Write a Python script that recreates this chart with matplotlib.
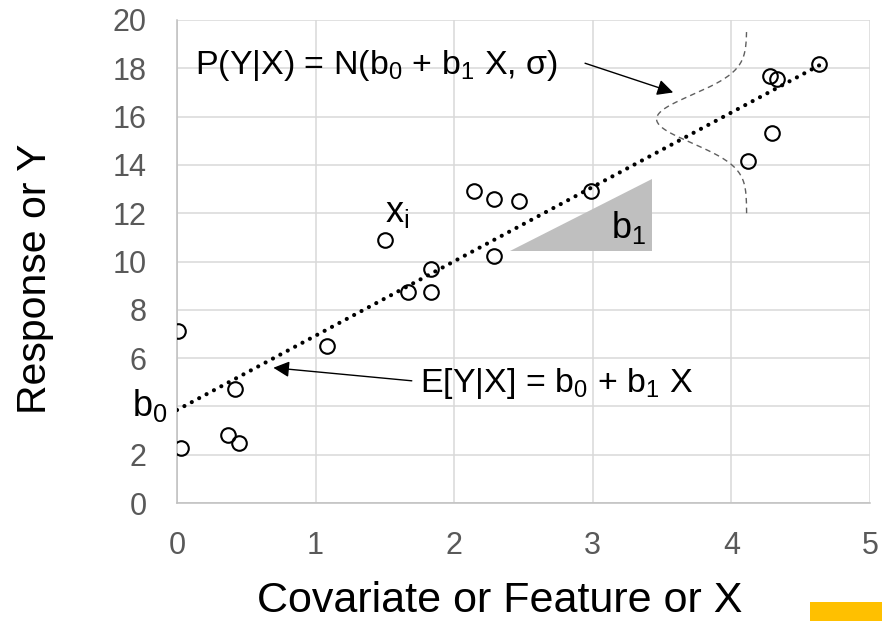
# -*- coding: utf-8 -*-
"""
Regresión lineal simple: puntos, recta E[Y|X] y la densidad P(Y|X)
"""
import numpy as np
import matplotlib.pyplot as plt
from matplotlib.patches import Rectangle

plt.rcParams['font.family'] = ['Liberation Sans', 'DejaVu Sans']
plt.rcParams['mathtext.fontset'] = 'custom'
plt.rcParams['mathtext.rm'] = 'Liberation Sans'
plt.rcParams['mathtext.default'] = 'regular'

# datos (x, y)
x_pts = [0.01, 0.03, 0.37, 0.45, 0.42, 1.08, 1.50, 1.67, 1.83, 1.83,
         2.14, 2.29, 2.47, 2.29, 2.99, 4.12, 4.29, 4.28, 4.33, 4.63]
y_pts = [7.12, 2.29, 2.82, 2.50, 4.71, 6.50, 10.89, 8.74, 8.74, 9.69,
         12.93, 12.58, 12.51, 10.24, 12.93, 14.15, 15.31, 17.68, 17.56, 18.17]

# recta ajustada
b0 = 3.85
b1 = 3.08
x_fit = [0.0, 4.68]

# campana de P(Y|X) dibujada de lado
gauss_base = 4.11
gauss_mu = 15.9
gauss_sigma = 1.0
gauss_amp = 0.65
gauss_rango = [12.0, 19.5]

# triángulo de la pendiente
tri_x = [2.40, 3.425, 3.425]
tri_y = [10.45, 10.45, 13.42]

x_ticks = [0, 1, 2, 3, 4, 5]
y_ticks = [0, 2, 4, 6, 8, 10, 12, 14, 16, 18, 20]
# el 4 queda tapado por la etiqueta b0
y_labels = ['0', '2', '', '6', '8', '10', '12', '14', '16', '18', '20']

fig = plt.figure(figsize=(8.82, 6.21), dpi=100)
ax = fig.add_axes([0.2007, 0.190, 0.7857, 0.7778])

ax.set_xlim(0, 5)
ax.set_ylim(0, 20)
ax.set_xticks(x_ticks)
ax.set_yticks(y_ticks)
ax.set_yticklabels(y_labels)
ax.grid(True, color='#D9D9D9', lw=1.1)
ax.set_axisbelow(True)
ax.tick_params(length=0, labelsize=22, labelcolor='#595959')
ax.tick_params(axis='y', pad=22)
ax.tick_params(axis='x', pad=20)
for s in ['top', 'right']:
    ax.spines[s].set_visible(False)
for s in ['left', 'bottom']:
    ax.spines[s].set_color('#BFBFBF')
    ax.spines[s].set_linewidth(1.1)

ax.fill(tri_x, tri_y, color='#BFBFBF', lw=0, zorder=2)

yy = np.linspace(gauss_rango[0], gauss_rango[1], 200)
xx = gauss_base - gauss_amp * np.exp(-(yy - gauss_mu) ** 2 / (2 * gauss_sigma ** 2))
ax.plot(xx, yy, color='#5F5F5F', lw=1.0, ls=(0, (4, 3)), zorder=3)

xf = np.array(x_fit)
ax.plot(xf, b0 + b1 * xf, color='black', lw=3.0, ls=(0, (0.01, 2.0)),
        dash_capstyle='round', zorder=4)

ax.plot(x_pts, y_pts, 'o', mfc='none', mec='black', ms=10.5, mew=1.5, zorder=5)

ax.text(0.13, 17.75, 'P(Y|X) = N(b$_0$ + b$_1$ X, σ)', fontsize=24.5, va='baseline')
ax.annotate('', xy=(3.58, 17.0), xytext=(2.944, 18.21),
            arrowprops=dict(arrowstyle='-|>', mutation_scale=24, lw=1,
                            color='black', shrinkA=0, shrinkB=0))

ax.text(1.753, 4.61, 'E[Y|X] = b$_0$ + b$_1$ X', fontsize=24.5, va='baseline')
ax.annotate('', xy=(0.695, 5.60), xytext=(1.694, 5.06),
            arrowprops=dict(arrowstyle='-|>', mutation_scale=24, lw=1,
                            color='black', shrinkA=0, shrinkB=0))

ax.text(-0.327, 3.60, 'b$_0$', fontsize=26, va='baseline', clip_on=False)
ax.text(1.50, 11.65, 'x$_i$', fontsize=26, va='baseline')
ax.text(3.13, 10.96, 'b$_1$', fontsize=26, va='baseline')

fig.text(0.567, 0.015, 'Covariate or Feature or X', fontsize=31, ha='center', va='baseline')
fig.text(0.040, 0.551, 'Response or Y', fontsize=29.5, rotation=90, ha='center', va='center')

# recuadro amarillo de la esquina
fig.patches.append(Rectangle((810 / 882, 0), 72 / 882, 19 / 621, transform=fig.transFigure,
                             color='#FFC000', lw=0))

fig.savefig('out.png', dpi=100)
